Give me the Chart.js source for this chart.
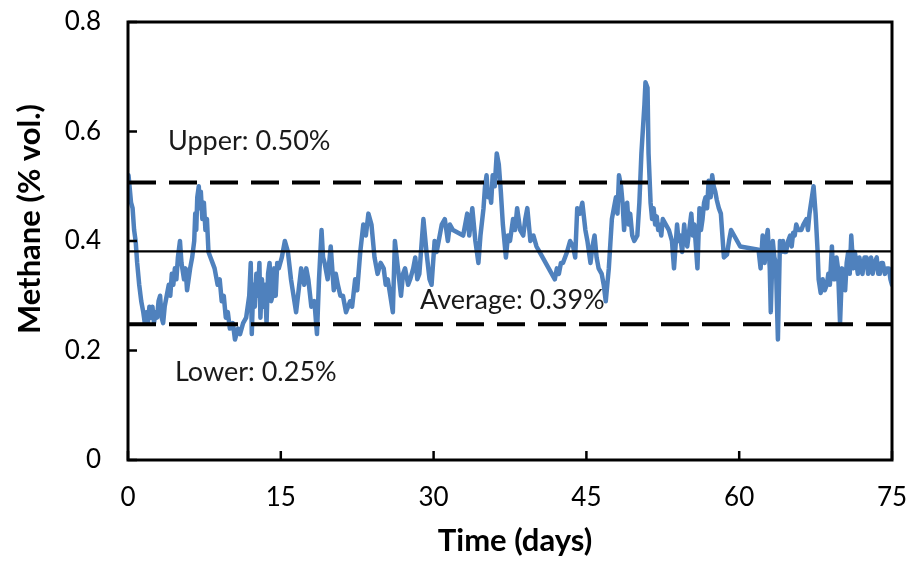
<!DOCTYPE html>
<html>
<head>
<meta charset="utf-8">
<script src="https://cdn.jsdelivr.net/npm/chart.js@4.4.1/dist/chart.umd.min.js"></script>
<style>
  html, body { margin: 0; padding: 0; background: #ffffff; }
  #wrap { width: 912px; height: 564px; position: relative; }
</style>
</head>
<body>
<div id="wrap"><canvas id="c" width="912" height="564"></canvas></div>
<script>
// ---- data ----
const days = [
  0.0, 0.05, 0.15, 0.3, 0.45, 0.6, 0.75, 0.9, 1.1, 1.3, 1.5, 1.65, 1.8, 1.95, 2.1, 2.25, 2.4, 2.55, 2.7, 2.85,
  3.0, 3.15, 3.3, 3.45, 3.6, 3.8, 4.0, 4.15, 4.3, 4.45, 4.6, 4.75, 4.9, 5.1, 5.25, 5.5, 5.65, 5.8, 6.1, 6.3,
  6.5, 6.6, 6.7, 6.8, 6.95, 7.05, 7.15, 7.3, 7.45, 7.6, 7.75, 7.9, 8.1, 8.3, 8.5, 8.8, 9.0, 9.2, 9.4, 9.6,
  9.8, 10.0, 10.3, 10.5, 10.8, 11.0, 11.3, 11.6, 11.9, 12.05, 12.15, 12.3, 12.45, 12.6, 12.75, 12.9, 13.0, 13.15, 13.3, 13.45,
  13.6, 13.75, 13.9, 14.05, 14.2, 14.35, 14.5, 14.65, 14.8, 15.1, 15.4, 15.7, 16.0, 16.25, 16.5, 16.75, 17.0, 17.3, 17.5, 17.7,
  18.0, 18.3, 18.55, 18.75, 19.0, 19.15, 19.3, 19.6, 19.9, 20.2, 20.4, 20.6, 20.85, 21.1, 21.4, 21.8, 22.0, 22.3, 22.5, 22.8,
  23.1, 23.35, 23.6, 23.9, 24.2, 24.5, 24.8, 25.1, 25.3, 25.5, 25.75, 26.0, 26.2, 26.5, 26.8, 27.0, 27.2, 27.5, 27.7, 28.0,
  28.2, 28.4, 28.6, 29.0, 29.3, 29.6, 29.8, 30.1, 30.3, 30.5, 30.8, 31.1, 31.4, 31.6, 31.9, 32.9, 33.1, 33.3, 33.5, 33.8,
  34.1, 34.4, 34.6, 34.9, 35.05, 35.2, 35.35, 35.5, 35.65, 35.8, 36.0, 36.2, 36.4, 36.6, 36.8, 37.1, 37.3, 37.5, 37.8, 38.0,
  38.2, 38.5, 38.8, 39.0, 39.2, 39.5, 39.8, 40.1, 40.4, 41.9, 42.1, 42.3, 42.5, 42.7, 43.1, 43.4, 43.7, 43.9, 44.1, 44.35,
  44.6, 44.9, 45.1, 45.4, 45.6, 45.8, 46.0, 46.2, 46.5, 46.7, 46.9, 47.2, 47.5, 47.7, 47.9, 48.05, 48.2, 48.4, 48.55, 48.7,
  48.85, 49.0, 49.15, 49.3, 49.5, 49.7, 50.0, 50.2, 50.4, 50.7, 50.8, 51.0, 51.1, 51.3, 51.45, 51.6, 51.75, 51.9, 52.05, 52.2,
  52.35, 52.5, 52.8, 53.1, 53.4, 53.6, 53.9, 54.05, 54.2, 54.4, 54.6, 54.75, 54.9, 55.1, 55.3, 55.45, 55.6, 55.9, 56.1, 56.25,
  56.4, 56.55, 56.7, 56.85, 57.0, 57.2, 57.35, 57.5, 57.65, 57.8, 58.0, 58.2, 58.5, 58.8, 59.0, 59.2, 59.5, 59.8, 60.1, 61.9,
  62.1, 62.3, 62.5, 62.65, 62.8, 63.0, 63.1, 63.3, 63.45, 63.6, 63.8, 64.0, 64.15, 64.3, 64.45, 64.6, 64.8, 65.0, 65.15, 65.3,
  65.45, 65.6, 65.8, 66.1, 66.3, 66.6, 66.75, 66.9, 67.1, 67.3, 67.5, 67.7, 67.8, 68.0, 68.2, 68.4, 68.6, 68.75, 68.9, 69.1,
  69.25, 69.4, 69.55, 69.7, 69.9, 70.1, 70.25, 70.4, 70.55, 70.7, 70.85, 71.0, 71.2, 71.35, 71.5, 71.65, 71.8, 71.95, 72.1, 72.3,
  72.5, 72.65, 72.8, 72.95, 73.1, 73.3, 73.5, 73.65, 73.8, 73.95, 74.1, 74.3, 74.5, 74.7, 74.85, 75.0
];
const methane = [
  0.50, 0.52, 0.50, 0.47, 0.46, 0.42, 0.40, 0.36, 0.32, 0.29, 0.27, 0.25, 0.27, 0.25, 0.28, 0.26, 0.28, 0.25, 0.27, 0.26,
  0.29, 0.30, 0.26, 0.25, 0.28, 0.30, 0.32, 0.30, 0.34, 0.32, 0.35, 0.33, 0.37, 0.40, 0.36, 0.33, 0.35, 0.31, 0.35, 0.37,
  0.40, 0.45, 0.42, 0.48, 0.50, 0.46, 0.49, 0.44, 0.47, 0.42, 0.44, 0.38, 0.37, 0.36, 0.35, 0.32, 0.33, 0.29, 0.30, 0.26,
  0.27, 0.24, 0.25, 0.22, 0.24, 0.23, 0.25, 0.26, 0.30, 0.36, 0.23, 0.32, 0.28, 0.34, 0.30, 0.36, 0.26, 0.33, 0.28, 0.32,
  0.25, 0.34, 0.36, 0.29, 0.30, 0.35, 0.30, 0.36, 0.35, 0.37, 0.40, 0.38, 0.33, 0.30, 0.27, 0.31, 0.35, 0.32, 0.35, 0.33,
  0.28, 0.29, 0.23, 0.33, 0.42, 0.37, 0.36, 0.33, 0.39, 0.31, 0.34, 0.32, 0.30, 0.30, 0.27, 0.29, 0.28, 0.33, 0.31, 0.38,
  0.43, 0.41, 0.45, 0.43, 0.37, 0.34, 0.36, 0.35, 0.32, 0.33, 0.30, 0.27, 0.40, 0.35, 0.30, 0.34, 0.35, 0.32, 0.33, 0.35,
  0.37, 0.33, 0.34, 0.44, 0.38, 0.33, 0.32, 0.40, 0.38, 0.40, 0.43, 0.44, 0.40, 0.43, 0.42, 0.41, 0.43, 0.45, 0.41, 0.46,
  0.40, 0.36, 0.41, 0.46, 0.50, 0.52, 0.48, 0.49, 0.47, 0.52, 0.50, 0.56, 0.54, 0.49, 0.43, 0.37, 0.41, 0.40, 0.44, 0.42,
  0.46, 0.42, 0.41, 0.44, 0.46, 0.40, 0.41, 0.39, 0.38, 0.33, 0.35, 0.34, 0.36, 0.36, 0.38, 0.40, 0.39, 0.37, 0.46, 0.45,
  0.47, 0.42, 0.40, 0.36, 0.39, 0.41, 0.37, 0.35, 0.34, 0.32, 0.29, 0.35, 0.44, 0.46, 0.48, 0.45, 0.52, 0.50, 0.47, 0.42,
  0.46, 0.47, 0.43, 0.45, 0.41, 0.40, 0.41, 0.47, 0.56, 0.65, 0.69, 0.68, 0.56, 0.47, 0.44, 0.46, 0.43, 0.445, 0.42, 0.43,
  0.41, 0.44, 0.43, 0.42, 0.40, 0.35, 0.43, 0.40, 0.41, 0.38, 0.43, 0.40, 0.39, 0.42, 0.45, 0.41, 0.43, 0.35, 0.46, 0.42,
  0.44, 0.47, 0.48, 0.46, 0.51, 0.48, 0.52, 0.50, 0.49, 0.475, 0.46, 0.45, 0.37, 0.375, 0.40, 0.42, 0.41, 0.40, 0.39, 0.384,
  0.35, 0.41, 0.36, 0.40, 0.42, 0.35, 0.27, 0.40, 0.37, 0.36, 0.22, 0.40, 0.38, 0.40, 0.38, 0.38, 0.40, 0.41, 0.39, 0.415,
  0.41, 0.43, 0.42, 0.42, 0.43, 0.44, 0.42, 0.45, 0.475, 0.50, 0.45, 0.38, 0.33, 0.305, 0.33, 0.31, 0.32, 0.34, 0.32, 0.39,
  0.33, 0.33, 0.37, 0.35, 0.25, 0.35, 0.33, 0.31, 0.36, 0.38, 0.34, 0.41, 0.35, 0.38, 0.36, 0.34, 0.37, 0.35, 0.34, 0.37,
  0.37, 0.34, 0.35, 0.37, 0.34, 0.36, 0.37, 0.34, 0.34, 0.36, 0.36, 0.34, 0.35, 0.35, 0.33, 0.32
];
const xTicks = [0, 15, 30, 45, 60, 75];
const yTicks = [0, 0.2, 0.4, 0.6, 0.8];
const refLevels = [0.507, 0.381, 0.248];          // upper, average, lower (as drawn)
const refLabels = ['Upper: 0.50%', 'Average: 0.39%', 'Lower: 0.25%'];
const xTitle = 'Time (days)';
const yTitle = 'Methane (% vol.)';

// ---- chart ----
const FONT = 'Lato, "Open Sans", "Liberation Sans", sans-serif';
const seriesPts = days.map((d, i) => ({ x: d, y: methane[i] }));
const refLine = (v) => [{ x: xTicks[0], y: v }, { x: xTicks[xTicks.length - 1], y: v }];

const labelAnchors = [ { x: 3.93, y: 0.583 }, { x: 28.66, y: 0.292 }, { x: 4.61, y: 0.161 } ];

const framePlugin = {
  id: 'frame',
  afterDatasetsDraw(chart) {
    const { ctx, chartArea: a, scales } = chart;
    const xs = scales.x, ys = scales.y;
    ctx.save();
    // reference labels
    ctx.fillStyle = '#1a1a1a';
    ctx.font = '27px ' + FONT;
    ctx.textAlign = 'left';
    ctx.textBaseline = 'middle';
    refLabels.forEach((t, i) => {
      ctx.fillText(t, xs.getPixelForValue(labelAnchors[i].x), ys.getPixelForValue(labelAnchors[i].y));
    });
    // frame box
    ctx.strokeStyle = '#000';
    ctx.lineWidth = 3;
    ctx.strokeRect(a.left, a.top, a.right - a.left, a.bottom - a.top);
    // inward tick marks
    ctx.lineWidth = 2.5;
    xTicks.forEach(v => {
      const px = xs.getPixelForValue(v);
      ctx.beginPath(); ctx.moveTo(px, a.bottom); ctx.lineTo(px, a.bottom - 9); ctx.stroke();
    });
    yTicks.forEach(v => {
      const py = ys.getPixelForValue(v);
      ctx.beginPath(); ctx.moveTo(a.left, py); ctx.lineTo(a.left + 9, py); ctx.stroke();
    });
    // axis titles
    ctx.fillStyle = '#000';
    ctx.font = 'bold 31px ' + FONT;
    ctx.textAlign = 'center';
    ctx.textBaseline = 'middle';
    ctx.fillText(xTitle, 515, 541);
    ctx.translate(30, 219);
    ctx.rotate(-Math.PI / 2);
    ctx.fillText(yTitle, 0, 0);
    ctx.restore();
  }
};

new Chart(document.getElementById('c'), {
  type: 'line',
  data: {
    datasets: [
      { data: refLine(refLevels[0]), borderColor: '#000', borderWidth: 4, borderDash: [28, 13], pointRadius: 0 },
      { data: refLine(refLevels[1]), borderColor: '#000', borderWidth: 2.2, pointRadius: 0 },
      { data: refLine(refLevels[2]), borderColor: '#000', borderWidth: 4, borderDash: [28, 13], pointRadius: 0 },
      { data: seriesPts, borderColor: '#4F81BD', borderWidth: 4.5, borderJoinStyle: 'round', borderCapStyle: 'round', pointRadius: 0, tension: 0 }
    ]
  },
  options: {
    responsive: false,
    animation: false,
    events: [],
    layout: { padding: { top: 22, right: 20, left: 0, bottom: 0 } },
    plugins: { legend: { display: false }, tooltip: { enabled: false } },
    scales: {
      x: {
        type: 'linear', min: 0, max: 75,
        afterBuildTicks: (s) => { s.ticks = xTicks.map(v => ({ value: v })); },
        afterFit: (s) => { s.height = 104; s.paddingLeft = 0; s.paddingRight = 0; },
        grid: { display: false, drawTicks: false },
        border: { display: false },
        ticks: { padding: 22, color: '#000', font: { family: FONT, size: 26 }, maxRotation: 0, autoSkip: false }
      },
      y: {
        type: 'linear', min: 0, max: 0.8,
        afterBuildTicks: (s) => { s.ticks = yTicks.map(v => ({ value: v })); },
        afterFit: (s) => { s.width = 128; s.paddingTop = 0; s.paddingBottom = 0; },
        grid: { display: false, drawTicks: false },
        border: { display: false },
        ticks: { padding: 27, color: '#000', font: { family: FONT, size: 26 }, callback: (v) => String(Math.round(v * 10) / 10) }
      }
    }
  },
  plugins: [framePlugin]
});
</script>
</body>
</html>
